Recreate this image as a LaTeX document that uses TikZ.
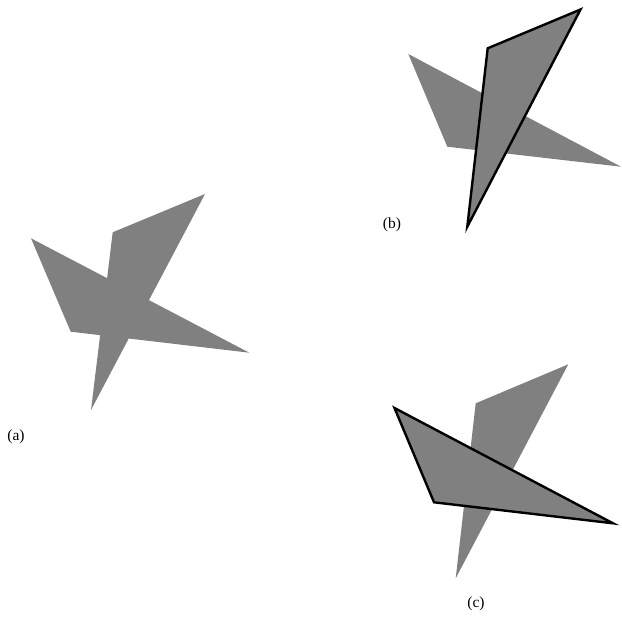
\documentclass[tikz,border=0pt]{standalone}
\usepackage{fontspec}
\setmainfont{Liberation Serif}
\definecolor{shade}{RGB}{128,128,128}
\tikzset{
  piece/.style={fill=shade, draw=none},
  outlined/.style={fill=shade, draw=black, line width=2.4pt, line join=miter},
  lab/.style={font=\fontsize{15.5}{17}\selectfont, inner sep=0pt}
}
\begin{document}
\begin{tikzpicture}[x=1pt,y=-1pt]
\useasboundingbox (0,0) rectangle (622,619);
% (a)
\fill[piece] (112.7,232.3) -- (205,194) -- (91,410) -- cycle;
\fill[piece] (31,238.3) -- (70.7,331.7) -- (249.3,352.7) -- cycle;
\node[lab] (la) at (16,437) {(a)};
% (b)
\fill[piece] (408.3,54) -- (447.3,146.7) -- (621,166.7) -- cycle;
\draw[outlined] (487.7,48.3) -- (580.5,9.5) -- (467.3,226.7) -- cycle;
\node[lab] (lb) at (392,225) {(b)};
% (c)
\fill[piece] (475.7,403.3) -- (568.3,364.3) -- (455.7,578.3) -- cycle;
\draw[outlined] (394.5,408) -- (434,502.3) -- (613,523.3) -- cycle;
\node[lab] (lc) at (476,604) {(c)};
\end{tikzpicture}
\end{document}
